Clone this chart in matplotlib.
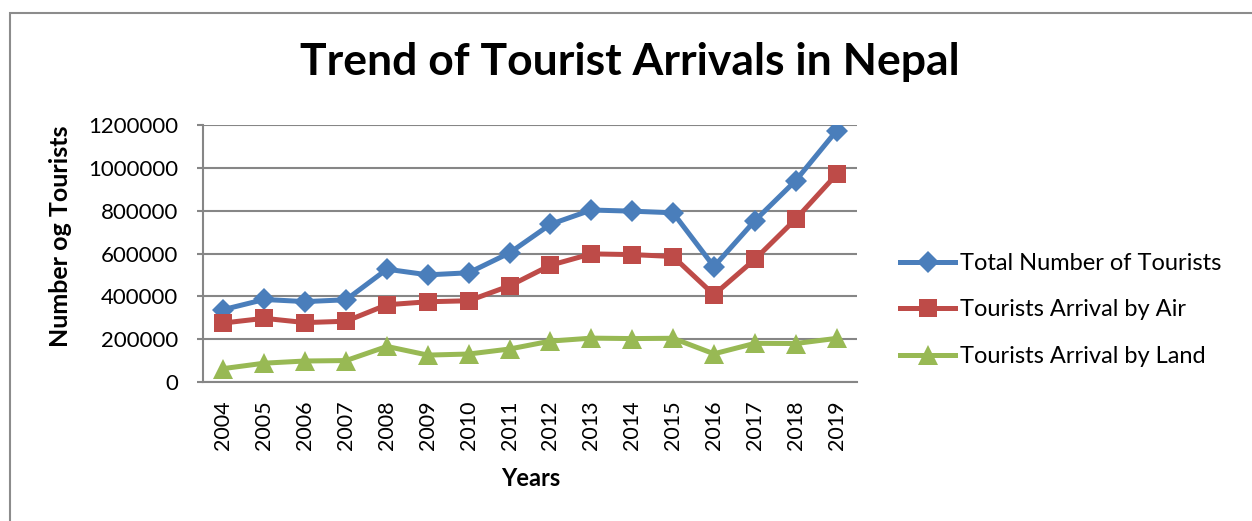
import matplotlib.pyplot as plt
from matplotlib.patches import Rectangle

years = ['2004', '2005', '2006', '2007', '2008', '2009', '2010', '2011',
         '2012', '2013', '2014', '2015', '2016', '2017', '2018', '2019']
total = [338132, 385297, 375398, 383926, 526705, 500277, 509956, 602867,
         736215, 803092, 797616, 790118, 538970, 753002, 940218, 1173072]
by_air = [275468, 297335, 277346, 283819, 360713, 374661, 379322, 448800,
          545221, 598258, 594848, 585981, 407412, 572563, 760577, 969287]
by_land = [62664, 87962, 98052, 100107, 165992, 125616, 130634, 154067,
           190994, 204834, 202768, 204137, 131558, 180439, 179641, 203785]

plt.rcParams['font.family'] = ['Lato', 'DejaVu Sans']

W, H = 1252, 521
fig = plt.figure(figsize=(W / 100, H / 100), dpi=100, facecolor='white')

# chart frame (runs off the right and bottom edges)
fig.patches.append(Rectangle((10 / W, -0.1), 1.2, 1.1 - 13 / H,
                             transform=fig.transFigure, fill=False,
                             edgecolor='#8c8c8c', linewidth=1.5))

ax = fig.add_axes([203 / W, (H - 382) / H, 654 / W, 257 / H])
x = range(len(years))

series = [
    (total, '#4a7ebb', 'D', 11, 'Total Number of Tourists'),
    (by_air, '#be4b48', 's', 13, 'Tourists Arrival by Air'),
    (by_land, '#98b954', '^', 14, 'Tourists Arrival by Land'),
]
for vals, col, mk, ms, lab in series:
    ax.plot(x, vals, color=col, linewidth=3.6, marker=mk, markersize=ms,
            markeredgewidth=0, label=lab, zorder=3)

ax.set_xlim(-0.5, len(years) - 0.5)
ax.set_ylim(0, 1200000)
ax.set_yticks(range(0, 1200001, 200000))
ax.set_yticklabels([str(v) for v in range(0, 1200001, 200000)], fontsize=16)
ax.set_xticks(list(x))
ax.set_xticklabels(years, rotation=90, fontsize=15.5)
ax.tick_params(axis='x', length=0, pad=13)
ax.tick_params(axis='y', length=4, width=1.5, color='#868686', pad=14)
ax.grid(axis='y', color='#868686', linewidth=1.5)
ax.set_axisbelow(True)
for side in ['top', 'right']:
    ax.spines[side].set_visible(False)
for side in ['left', 'bottom']:
    ax.spines[side].set_color('#868686')
    ax.spines[side].set_linewidth(1.5)

fig.text(630 / W, 1 - 62 / H, 'Trend of Tourist Arrivals in Nepal',
         ha='center', va='center', fontsize=32, fontweight='bold')
fig.text(60 / W, 1 - 236 / H, 'Number og Tourists', rotation=90,
         ha='center', va='center', fontsize=18, fontweight='bold')
fig.text(531 / W, 1 - 478 / H, 'Years', ha='center', va='center',
         fontsize=17, fontweight='bold')

handles, labels = ax.get_legend_handles_labels()
fig.legend(handles, labels, loc='center left',
           bbox_to_anchor=(900 / W, 1 - 310 / H), frameon=False,
           fontsize=17, handlelength=2.33, handletextpad=0.2,
           labelspacing=1.08, borderaxespad=0, borderpad=0)

fig.savefig('out.png', dpi=100, facecolor='white')
